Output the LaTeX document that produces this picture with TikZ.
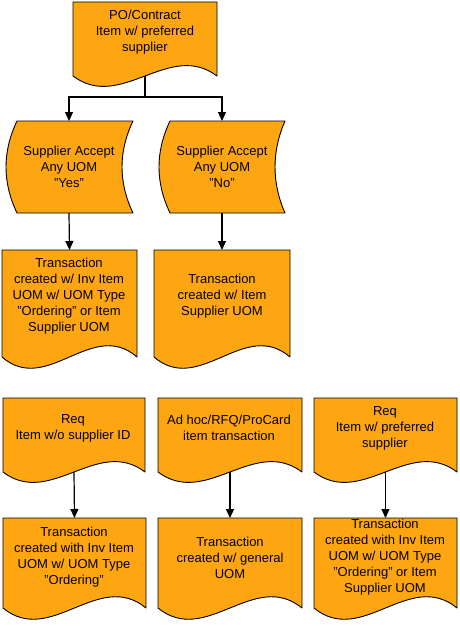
\documentclass[tikz,border=0pt]{standalone}
\usepackage{fontspec}
\setmainfont{Liberation Sans}
\usetikzlibrary{arrows.meta}
\definecolor{docfill}{RGB}{254,166,17}
\newcommand\mydoc[6]{% name, x0, x1, ytop, yend, d
  \path[docshape] (#2,#4) -- (#3,#4) -- (#3,#5)
    .. controls ({#2+2*(#3-#2)/3},{#5-#6}) and ({#2+(#3-#2)/3},{#5+#6}) .. (#2,#5) -- cycle;
  \coordinate (#1-top) at ({(#2+#3)/2},#4);
  \coordinate (#1-bot) at ({(#2+#3)/2},#5);
}
\newcommand\mystored[7]{% name, xl, xr, ytop, ybot, bulge left, bulge right
  \path[docshape] (#2,#4) -- (#3,#4)
    .. controls ({#3-4*#7/3},{#4+(#5-#4)/3}) and ({#3-4*#7/3},{#4+2*(#5-#4)/3}) .. (#3,#5)
    -- (#2,#5)
    .. controls ({#2-4*#6/3},{#4+2*(#5-#4)/3}) and ({#2-4*#6/3},{#4+(#5-#4)/3}) .. (#2,#4) -- cycle;
}
\begin{document}
\begin{tikzpicture}[x=1pt,y=-1pt,
  docshape/.style={draw=black,fill=docfill,line width=0.9pt,line join=round},
  lbl/.style={align=center,font=\fontsize{13}{16}\selectfont,inner sep=0pt,text=black},
  conn/.style={draw=black,line width=1.2pt},
  arr/.style={conn,-{Triangle[length=9pt,width=8pt]}}]
\useasboundingbox (0,0) rectangle (459,626);
% shapes
\mydoc{po}{73}{217}{2}{76}{36}
\mystored{yes}{17}{133}{121}{213}{11}{11}
\mystored{no}{170}{285}{121}{213}{11}{10}
\coordinate (yes-top) at (69,121);
\coordinate (yes-bot) at (69,213);
\coordinate (no-top) at (222,121);
\coordinate (no-bot) at (222,213);
\mydoc{ty}{2}{137}{250}{357}{39}
\mydoc{tn}{154}{290}{250}{357}{39}
\mydoc{ra}{3}{145}{398}{472}{36}
\mydoc{rb}{158}{302}{398}{472}{36}
\mydoc{rc}{314}{457}{398}{472}{36}
\mydoc{ba}{3}{146}{518}{608}{39}
\mydoc{bb}{158}{302}{518}{608}{39}
\mydoc{bc}{314}{457}{518}{608}{39}
% labels
\node[lbl] (t-po) at (145,32) {PO/Contract\\Item w/ preferred\\supplier};
\node[lbl] (t-yes) at (69,167) {Supplier Accept\\Any UOM\\"Yes"};
\node[lbl] (t-no) at (222,167) {Supplier Accept\\Any UOM\\"No"};
\node[lbl] (t-ty) at (69,296) {Transaction\\created w/ Inv Item\\UOM w/ UOM Type\\"Ordering" or Item\\Supplier UOM};
\node[lbl] (t-tn) at (222,296) {Transaction\\created w/ Item\\Supplier UOM};
\node[lbl] (t-ra) at (73,428) {Req\\Item w/o supplier ID};
\node[lbl] (t-rb) at (229,428) {Ad hoc/RFQ/ProCard\\item transaction};
\node[lbl] (t-rc) at (385,428) {Req\\Item w/ preferred\\supplier};
\node[lbl] (t-ba) at (74,557) {Transaction\\created with Inv Item\\UOM w/ UOM Type\\"Ordering"};
\node[lbl] (t-bb) at (230,558) {Transaction\\created w/ general\\UOM};
\node[lbl] (t-bc) at (385,557) {Transaction\\created with Inv Item\\UOM w/ UOM Type\\"Ordering" or Item\\Supplier UOM};
% connectors
\coordinate (split) at (145,97);
\draw[conn] (po-bot) -- (split);
\draw[arr] (split) -| (yes-top);
\draw[arr] (split) -| (no-top);
\draw[arr] (yes-bot) -- (ty-top);
\draw[arr] (no-bot) -- (tn-top);
\draw[arr] (ra-bot) -- (ba-top);
\draw[arr] (rb-bot) -- (bb-top);
\draw[arr] (rc-bot) -- (bc-top);
\end{tikzpicture}
\end{document}
